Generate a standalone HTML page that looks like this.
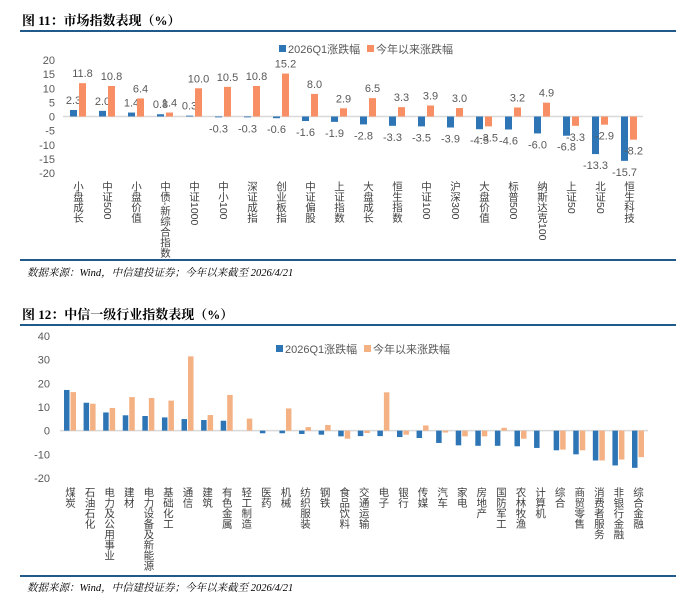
<!DOCTYPE html>
<html><head><meta charset="utf-8">
<style>
body{margin:0;background:#fff;}
svg{display:block;font-family:"Liberation Sans","Noto Sans CJK SC",sans-serif;}
.tick{font-size:11px;fill:#595959;}
.val{font-size:11px;fill:#595959;}
.cat{font-size:10.5px;fill:#404040;writing-mode:vertical-rl;}
.title{font-family:"Liberation Serif","Noto Serif CJK SC","Noto Sans CJK SC",serif;font-weight:bold;font-size:13px;fill:#000;}
.src{font-family:"Liberation Serif","Noto Serif CJK SC",serif;font-style:italic;font-size:10.5px;fill:#000;}
.leg{font-size:11px;fill:#595959;}
</style></head>
<body>
<svg id="chart" width="698" height="602" viewBox="0 0 698 602" xmlns="http://www.w3.org/2000/svg">
<text class="title" x="22" y="25">图 11：市场指数表现（%）</text>
<rect x="20" y="30" width="656" height="2" fill="#1f5a8a"/>
<rect x="20" y="259" width="656" height="2" fill="#1f5a8a"/>
<text class="src" x="27" y="276">数据来源：Wind，中信建投证券；今年以来截至 2026/4/21</text>
<g>
<rect x="279" y="45" width="7" height="7" fill="#2e75b6"/>
<text class="leg" x="288" y="53">2026Q1涨跌幅</text>
<rect x="367" y="45" width="7" height="7" fill="#f88f64"/>
<text class="leg" x="376" y="53">今年以来涨跌幅</text>
</g>
<g id="c1"></g>

<text class="title" x="22" y="319">图 12：中信一级行业指数表现（%）</text>
<rect x="20" y="324" width="656" height="2" fill="#1f5a8a"/>
<rect x="20" y="575" width="656" height="2" fill="#1f5a8a"/>
<text class="src" x="27" y="591">数据来源：Wind，中信建投证券；今年以来截至 2026/4/21</text>
<g>
<rect x="276" y="345" width="7" height="7" fill="#2e75b6"/>
<text class="leg" x="285" y="353">2026Q1涨跌幅</text>
<rect x="364" y="345" width="7" height="7" fill="#f4b183"/>
<text class="leg" x="373" y="353">今年以来涨跌幅</text>
</g>
<g id="c2"></g>
</svg>
<script>
const cats1 = ["小盘成长","中证500","小盘价值","中债-新综合指数","中证1000","中小100","深证成指","创业板指","中证偏股","上证指数","大盘成长","恒生指数","中证100","沪深300","大盘价值","标普500","纳斯达克100","上证50","北证50","恒生科技"];
const q1a = [2.3,2.0,1.4,0.8,0.3,-0.3,-0.3,-0.6,-1.6,-1.9,-2.8,-3.3,-3.5,-3.9,-4.5,-4.6,-6.0,-6.8,-13.3,-15.7];
const ytda = [11.8,10.8,6.4,1.4,10.0,10.5,10.8,15.2,8.0,2.9,6.5,3.3,3.9,3.0,-3.5,3.2,4.9,-3.3,-2.9,-8.2];
const ticks1 = [20,15,10,5,0,-5,-10,-15,-20];

const cats2 = ["煤炭","石油石化","电力及公用事业","建材","电力设备及新能源","基础化工","通信","建筑","有色金属","轻工制造","医药","机械","纺织服装","钢铁","食品饮料","交通运输","电子","银行","传媒","汽车","家电","房地产","国防军工","农林牧渔","计算机","综合","商贸零售","消费者服务","非银行金融","综合金融"];
const q1b = [17.2,11.8,7.7,6.5,6.2,5.6,4.9,4.5,4.2,0,-1.1,-1.1,-1.4,-1.7,-2.4,-2.3,-2.3,-2.7,-3.1,-5.2,-6.2,-6.4,-6.4,-6.6,-7.3,-8.3,-10.0,-12.6,-14.7,-15.7];
const ytdb = [16.3,11.4,9.6,14.2,13.8,12.7,31.4,6.6,15.1,5.1,0,9.4,1.5,2.4,-3.4,-1.0,16.2,-1.7,2.2,-0.8,-2.4,-2.4,1.2,-3.4,0,-8.0,-8.3,-12.6,-12.2,-11.2];
const ticks2 = [40,30,20,10,0,-10,-20];

const NS="http://www.w3.org/2000/svg";
function mk(parent,tag,attrs){const e=document.createElementNS(NS,tag);for(const k in attrs)e.setAttribute(k,attrs[k]);parent.appendChild(e);return e;}

function draw(g,cfg){
  const y=v=>cfg.y0-(v-cfg.vmin)*(cfg.y0-cfg.y1)/(cfg.vmax-cfg.vmin);
  const n=cfg.cats.length;
  const x=i=>cfg.xa+(cfg.xb-cfg.xa)*i/(n-1);
  cfg.ticks.forEach(t=>{
    const e=mk(g,'text',{x:cfg.tx,y:y(t)+4,'text-anchor':'end',class:'tick'});
    
    
    e.textContent=t;
  });
  const ax=mk(g,'line',{x1:cfg.lx1,x2:cfg.lx2,y1:y(0),y2:y(0),stroke:'#d9d9d9','stroke-width':1.5});
  
  
  cfg.cats.forEach((c,i)=>{
    const cx=x(i);
    [[cfg.s1,cfg.c1,-1],[cfg.s2,cfg.c2,1]].forEach(([s,col,side],k)=>{
      const v=s[i];
      const bx=cx+(side<0?-cfg.bw-cfg.gap/2:cfg.gap/2);
      const top=Math.min(y(v),y(0)),h=Math.max(Math.abs(y(v)-y(0)),v===0?0:0.8);
      const r=mk(g,'rect',{x:bx,y:top,width:cfg.bw,height:h,fill:col});
      
      
      if(cfg.labels){
        const ly=v>=0?y(v)-6:y(v)+15;
        const t=mk(g,'text',{x:bx+cfg.bw/2,y:ly,'text-anchor':'middle',class:'val'});
        
        
        t.textContent=v.toFixed(1);
      }
    });
    const t=mk(g,'text',{x:cx,y:cfg.cy,class:'cat'});
    
    
    t.textContent=c;
  });
}
draw(document.getElementById('c1'),{cats:cats1,s1:q1a,s2:ytda,ticks:ticks1,vmin:-20,vmax:20,y0:173,y1:60,xa:78,xb:629,tx:55,lx1:63,lx2:643,bw:7,gap:2,c1:'#2e75b6',c2:'#f88f64',labels:true,cy:181});
draw(document.getElementById('c2'),{cats:cats2,s1:q1b,s2:ytdb,ticks:ticks2,vmin:-20,vmax:40,y0:478,y1:336,xa:70,xb:638,tx:50,lx1:60,lx2:648,bw:5.5,gap:1,c1:'#2e75b6',c2:'#f4b183',labels:false,cy:487});
</script>
</body></html>
